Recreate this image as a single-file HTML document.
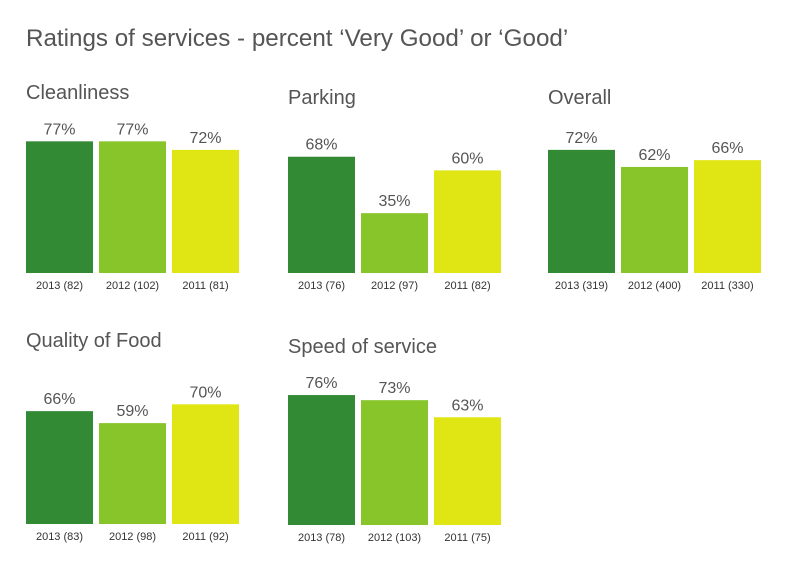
<!DOCTYPE html>
<html><head><meta charset="utf-8"><style>
body{margin:0;background:#fff;}
svg{display:block;font-family:"Liberation Sans",Arial,sans-serif;}
</style></head><body>
<svg id="c" width="800" height="579">
<text x="26" y="46" font-size="24.2" fill="#555">Ratings of services - percent ‘Very Good’ or ‘Good’</text>
</svg>
<script>
const panelTitles=["Cleanliness","Parking","Overall","Quality of Food","Speed of service"];
const years=["2013","2012","2011"];
const counts=[[82,102,81],[76,97,82],[319,400,330],[83,98,92],[78,103,75]];
const values=[[77,77,72],[68,35,60],[72,62,66],[66,59,70],[76,73,63]];
const colors=["#338a35","#88c52a","#e0e614"];
const panelX=[26,288,548,26,288];
const baseY=[273,273,273,524,525];
const titleY=[99,104,104,347,353];
const scale=1.71, barW=67, step=73;
const svg=document.getElementById('c');
const NS='http://www.w3.org/2000/svg';
function mk(t,a){const e=document.createElementNS(NS,t);for(const k in a)e.setAttribute(k,a[k]);return e;}
function yPos(p,v){return baseY[p]-v*scale;}
panelTitles.forEach((title,p)=>{
  const g=mk('g',{});
  
  
  svg.appendChild(g);
  const t=mk('text',{x:panelX[p],y:titleY[p],'font-size':20,fill:'#555'});
  t.textContent=title;
  
  
  g.appendChild(t);
  values[p].forEach((v,i)=>{
    const x=panelX[p]+i*step, y=yPos(p,v);
    const r=mk('rect',{x:x,y:y,width:barW,height:baseY[p]-y,fill:colors[i]});
    
    
    g.appendChild(r);
    const l=mk('text',{x:x+barW/2,y:y-7,'font-size':16,fill:'#555','text-anchor':'middle'});
    l.textContent=v+'%';
    
    
    g.appendChild(l);
    const c=mk('text',{x:x+barW/2,y:baseY[p]+16,'font-size':11,fill:'#333','text-anchor':'middle'});
    c.textContent=years[i]+' ('+counts[p][i]+')';
    
    
    g.appendChild(c);
  });
});
</script>
</body></html>
